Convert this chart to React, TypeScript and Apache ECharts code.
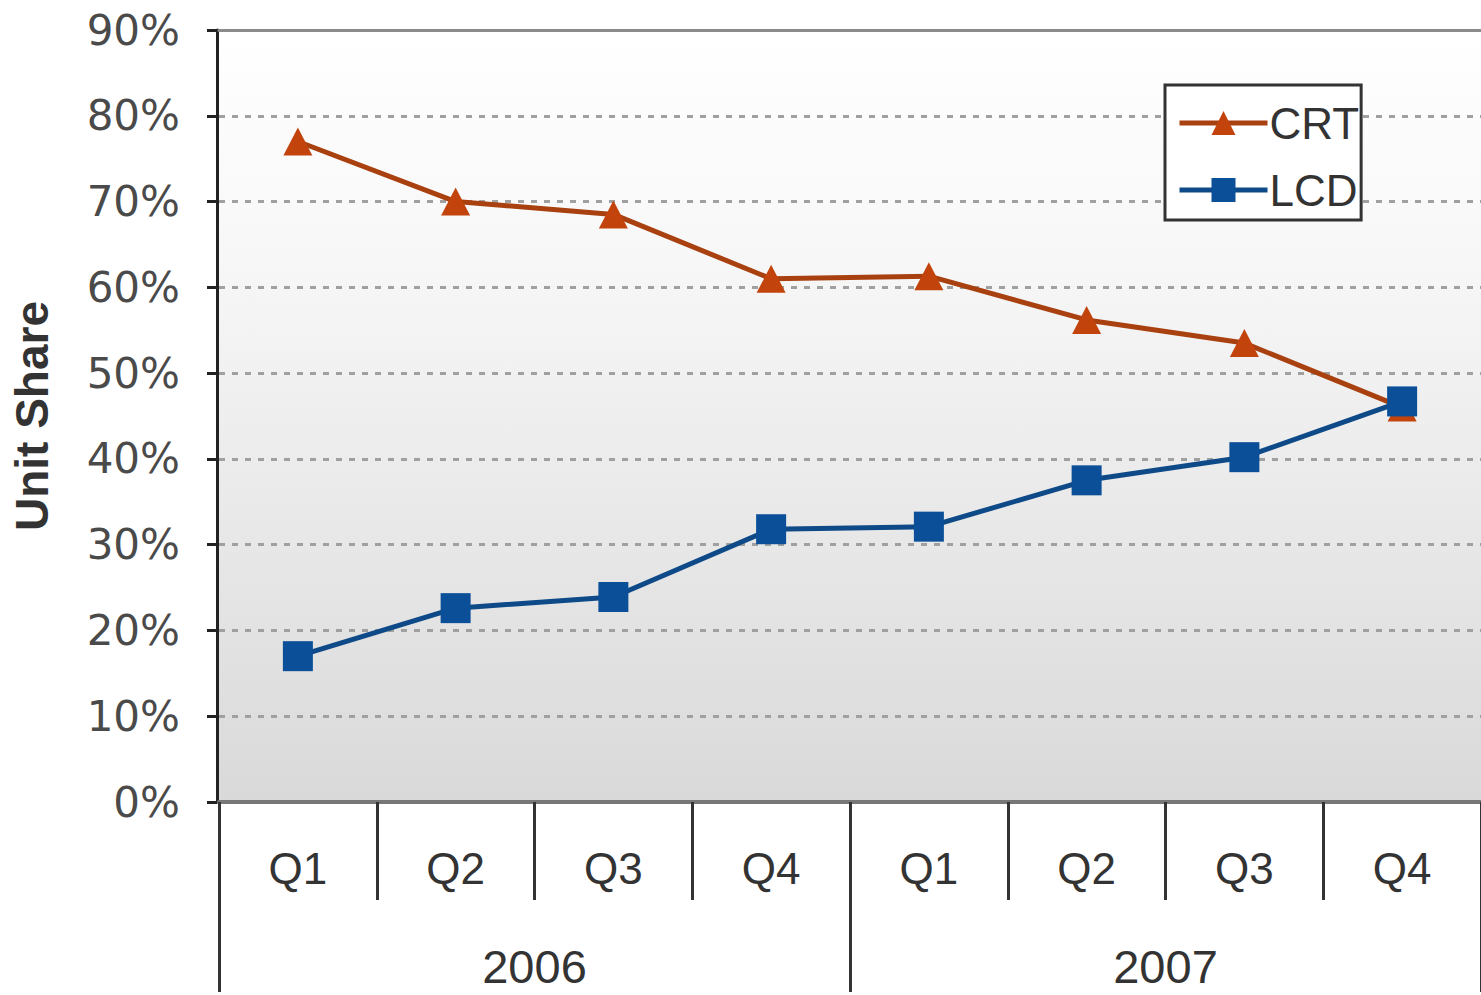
import React, { useEffect, useRef } from "react";
import * as echarts from "echarts";

const quarters = ["Q1", "Q2", "Q3", "Q4", "Q1", "Q2", "Q3", "Q4"];
const years = ["2006", "2007"];
const crt = [77, 70, 68.5, 61, 61.3, 56.2, 53.5, 46];
const lcd = [17, 22.6, 23.9, 31.8, 32.1, 37.5, 40.2, 46.7];
const yTicks = { min: 0, max: 90, interval: 10 };

export default function App() {
  const ref = useRef<HTMLDivElement>(null);
  useEffect(() => {
    document.body.style.margin = "0";
    const chart = echarts.init(ref.current!, null, { renderer: "svg" });
    chart.setOption({
      animation: false,
      backgroundColor: "#ffffff",
      grid: {
        left: 219,
        top: 30,
        width: 1270,
        bottom: 193,
        show: true,
        borderWidth: 0,
        backgroundColor: new echarts.graphic.LinearGradient(0, 0, 0, 1, [
          { offset: 0, color: "#ffffff" },
          { offset: 0.3, color: "#f7f7f7" },
          { offset: 1, color: "#d9d9d9" },
        ]),
      },
      legend: {
        left: 1165,
        top: 85,
        orient: "vertical",
        backgroundColor: "#ffffff",
        borderColor: "#333333",
        borderWidth: 3,
        borderRadius: 0,
        padding: [16, 2, 8, 12],
        itemWidth: 88,
        itemHeight: 30,
        itemGap: 23,
        lineStyle: { width: 5 },
        textStyle: {
          fontFamily: "Liberation Sans, Arial, sans-serif",
          fontSize: 44,
          lineHeight: 44,
          color: "#333333",
          padding: [0, 0, 0, -3],
        },
        data: ["CRT", "LCD"],
      },
      xAxis: [
        {
          type: "category",
          data: quarters,
          position: "bottom",
          boundaryGap: true,
          axisLine: { show: true, lineStyle: { color: "#777777", width: 4 } },
          axisTick: {
            show: true,
            interval: 0,
            length: 98,
            lineStyle: { color: "#333333", width: 3 },
          },
          axisLabel: {
            interval: 0,
            margin: 44,
            fontFamily: "Liberation Sans, Arial, sans-serif",
            fontSize: 44,
            color: "#333333",
          },
          splitLine: { show: false },
        },
        {
          type: "category",
          data: years,
          position: "bottom",
          boundaryGap: true,
          axisLine: { show: false },
          axisTick: {
            show: true,
            interval: 0,
            length: 190,
            lineStyle: { color: "#333333", width: 3 },
          },
          axisLabel: {
            interval: 0,
            margin: 141,
            fontFamily: "Liberation Sans, Arial, sans-serif",
            fontSize: 47,
            color: "#333333",
          },
          splitLine: { show: false },
        },
        {
          type: "category",
          data: quarters,
          position: "top",
          axisLine: { show: true, lineStyle: { color: "#8a8a8a", width: 3 } },
          axisTick: { show: false },
          axisLabel: { show: false },
          splitLine: { show: false },
        },
      ],
      yAxis: {
        type: "value",
        min: yTicks.min,
        max: yTicks.max,
        interval: yTicks.interval,
        offset: 2,
        name: "Unit Share",
        nameLocation: "middle",
        nameRotate: 90,
        nameGap: 162,
        nameTextStyle: {
          fontFamily: "Liberation Sans, Arial, sans-serif",
          fontSize: 46,
          fontWeight: "bold",
          color: "#333333",
        },
        axisLine: { show: true, lineStyle: { color: "#222222", width: 3 } },
        axisTick: { show: true, length: 10, lineStyle: { color: "#222222", width: 3 } },
        axisLabel: {
          formatter: "{value}%",
          margin: 37,
          fontFamily: "DejaVu Sans, Verdana, sans-serif",
          fontSize: 42,
          color: "#4a4a4a",
        },
        splitLine: {
          show: true,
          lineStyle: { color: "#a0a0a0", width: 3, type: [6, 7] },
        },
      },
      series: [
        {
          name: "CRT",
          type: "line",
          xAxisIndex: 0,
          data: crt,
          symbol: "triangle",
          symbolSize: [29, 28],
          lineStyle: { color: "#a9400f", width: 5 },
          itemStyle: { color: "#c2440c", borderWidth: 0 },
        },
        {
          name: "LCD",
          type: "line",
          xAxisIndex: 0,
          data: lcd,
          symbol: "rect",
          symbolSize: [30, 30],
          lineStyle: { color: "#0e4a88", width: 5 },
          itemStyle: { color: "#0a4f98", borderWidth: 0 },
        },
      ],
    });
    return () => chart.dispose();
  }, []);
  return <div ref={ref} style={{ width: 1481, height: 995 }} />;
}
